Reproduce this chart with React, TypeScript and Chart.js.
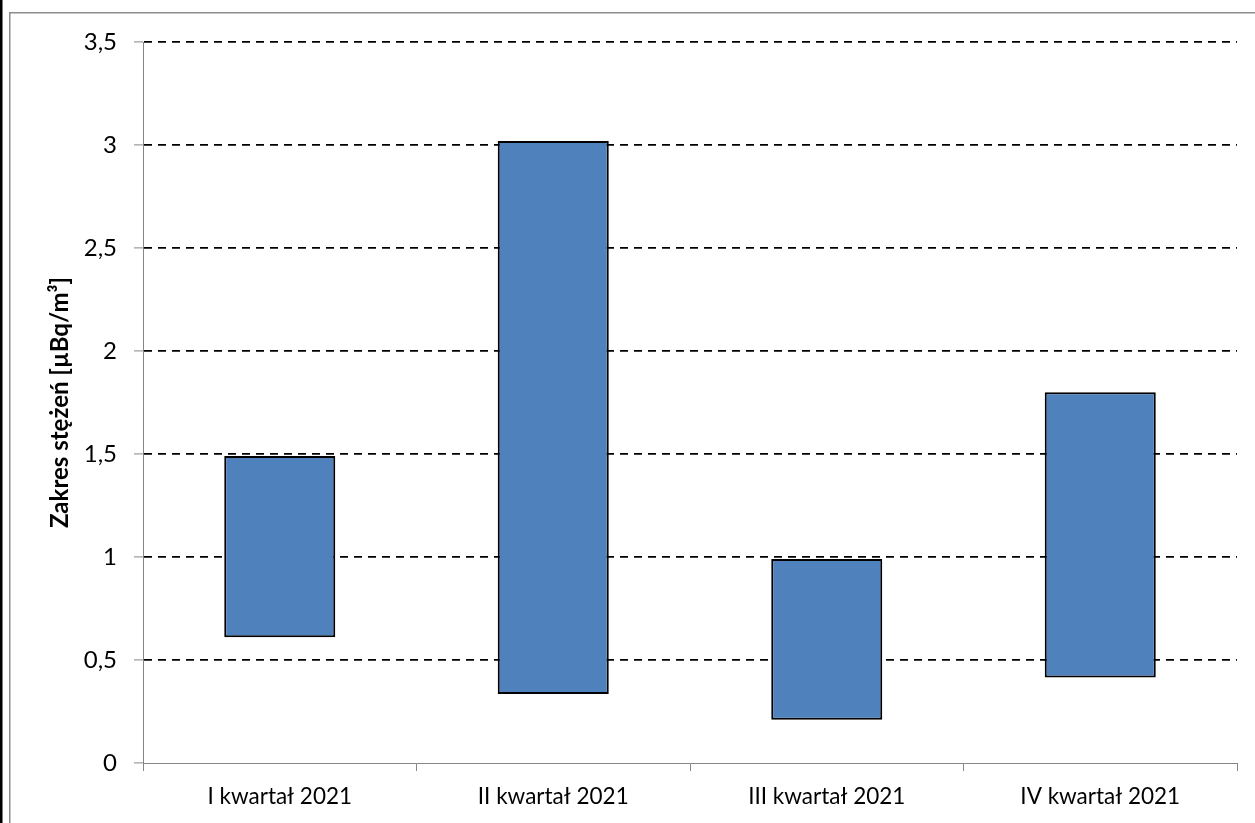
import React, { useEffect, useRef } from "react";
import { Chart, registerables } from "chart.js";

Chart.register(...registerables);

const categories = ["I kwartał 2021", "II kwartał 2021", "III kwartał 2021", "IV kwartał 2021"];
const minValues = [0.61, 0.335, 0.21, 0.415];
const maxValues = [1.49, 3.02, 0.99, 1.8];
const yTitle = "Zakres stężeń [µBq/m³]";

const FONT = "Lato, 'Open Sans', sans-serif";
const AXIS_GRAY = "#868686";

const framePlugin = {
  id: "frame",
  beforeDraw(chart: any) {
    const ctx = chart.ctx;
    ctx.save();
    ctx.fillStyle = "#ffffff";
    ctx.fillRect(0, 0, chart.width, chart.height);
    ctx.fillStyle = "#000000";
    ctx.fillRect(0, 0, 2.5, chart.height);
    ctx.strokeStyle = "#8c8c8c";
    ctx.lineWidth = 1.5;
    ctx.beginPath();
    ctx.moveTo(9.75, chart.height + 5);
    ctx.lineTo(9.75, 12.75);
    ctx.lineTo(chart.width + 5, 12.75);
    ctx.stroke();
    ctx.restore();
  },
};

export default function App() {
  const ref = useRef<HTMLCanvasElement | null>(null);

  useEffect(() => {
    document.body.style.margin = "0";
    const canvas = ref.current;
    if (!canvas) return;
    const chart = new Chart(canvas, {
      type: "bar",
      data: {
        labels: categories,
        datasets: [
          {
            data: categories.map((_, i) => [minValues[i], maxValues[i]]) as any,
            backgroundColor: "#4F81BD",
            borderColor: "#000000",
            borderWidth: 2,
            borderSkipped: false,
            categoryPercentage: 0.406,
            barPercentage: 1,
          },
        ],
      },
      options: {
        animation: false,
        responsive: false,
        maintainAspectRatio: false,
        devicePixelRatio: 1,
        layout: { padding: { top: 42, right: 18, left: 0, bottom: 0 } },
        plugins: {
          legend: { display: false },
          tooltip: { enabled: false },
        },
        scales: {
          x: {
            offset: true,
            grid: {
              offset: true,
              drawOnChartArea: false,
              drawTicks: true,
              tickLength: 8,
              tickColor: AXIS_GRAY,
              tickWidth: 1,
            },
            border: { color: AXIS_GRAY, width: 1 },
            ticks: {
              color: "#000000",
              font: { family: FONT, size: 22.5 },
              padding: 12,
              maxRotation: 0,
            },
            afterFit(scale: any) {
              scale.height = 60;
            },
          },
          y: {
            min: 0,
            max: 3.5,
            ticks: {
              stepSize: 0.5,
              color: "#000000",
              font: { family: FONT, size: 24 },
              padding: 17,
              callback: (v: any) => String(v).replace(".", ","),
            },
            grid: {
              color: (c: any) => (c.tick && c.tick.value === 0 ? "rgba(0,0,0,0)" : "#000000"),
              lineWidth: 1.8,
              drawTicks: true,
              tickLength: 9,
              tickColor: AXIS_GRAY,
              tickBorderDash: [],
              tickWidth: 1,
            } as any,
            border: { color: AXIS_GRAY, width: 1, dash: [8, 6] } as any,
            title: {
              display: true,
              text: yTitle,
              color: "#000000",
              font: { family: FONT, size: 24, weight: "bold" },
              padding: { top: 46, bottom: 0 },
            },
            afterFit(scale: any) {
              scale.width = 143;
            },
          },
        },
      },
      plugins: [framePlugin],
    });
    return () => chart.destroy();
  }, []);

  return (
    <div style={{ position: "fixed", left: 0, top: 0, width: 1255, height: 823 }}>
      <canvas ref={ref} width={1255} height={823} style={{ width: 1255, height: 823, display: "block" }} />
    </div>
  );
}
